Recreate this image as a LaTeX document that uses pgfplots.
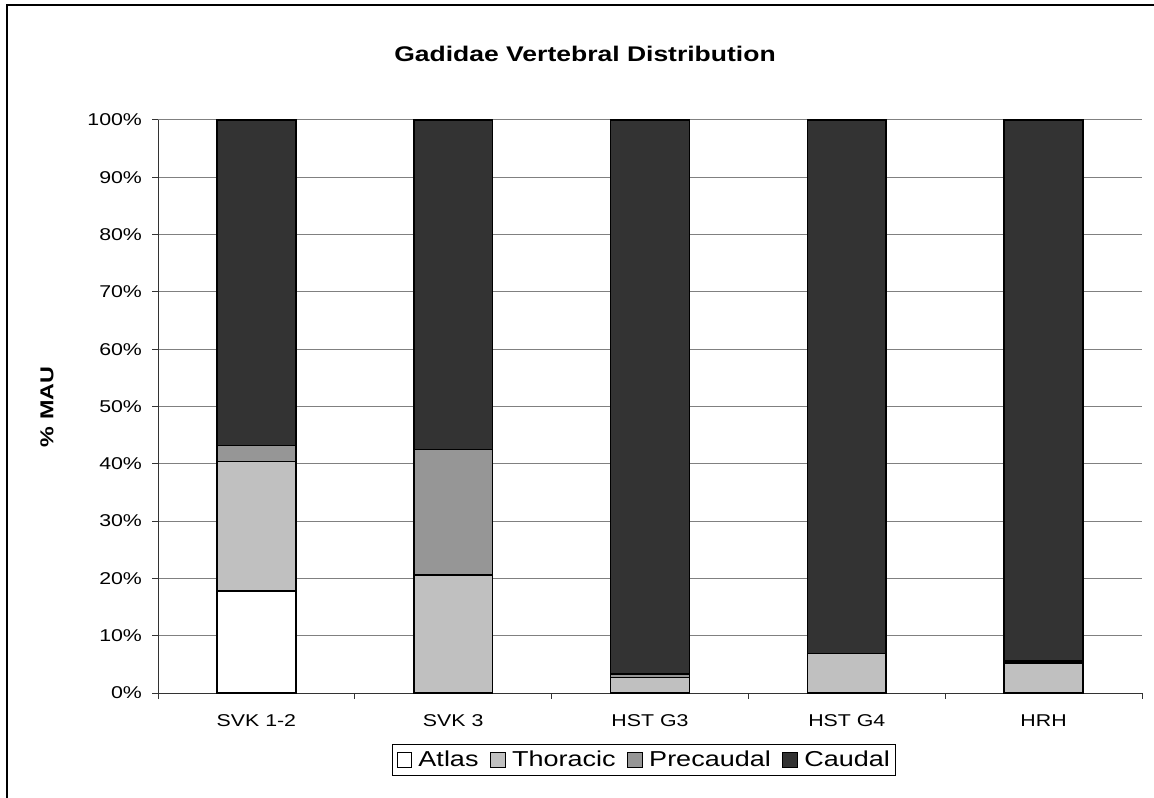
\documentclass[border=0pt]{standalone}
\usepackage{fontspec}
\setmainfont{Liberation Sans}[FakeStretch=1.25]
\usepackage{pgfplots}
\pgfplotsset{compat=1.18}
\definecolor{thor}{HTML}{C0C0C0}
\definecolor{prec}{HTML}{969696}
\definecolor{caud}{HTML}{333333}
\begin{document}
\begin{tikzpicture}
\useasboundingbox (0pt,0pt) rectangle (865.5pt,597.75pt);
\draw[line width=1.1pt] (5.25pt,-5pt) -- (5.25pt,594pt) -- (875pt,594pt);
\node[font=\bfseries\fontsize{15.9}{18}\selectfont, anchor=base] at (438.75pt,551.25pt) {Gadidae Vertebral Distribution};
\node[font=\bfseries\fontsize{14}{16}\selectfont, rotate=90] at (35.25pt,292.5pt) {\% MAU};
\begin{axis}[
  at={(118.5pt,78pt)}, anchor=south west,
  scale only axis, width=738pt, height=429.75pt,
  ybar stacked, bar width=0.4,
  xmin=-0.5, xmax=4.5, ymin=0, ymax=100,
  xtick={-0.5,0.5,1.5,2.5,3.5,4.5}, xticklabels={},
  extra x ticks={0,1,2,3,4},
  extra x tick labels={SVK 1-2,SVK 3,HST G3,HST G4,HRH},
  extra x tick style={major tick length=0pt, xticklabel style={yshift=-12.5pt}},
  ytick={0,10,...,100},
  yticklabel={\pgfmathprintnumber{\tick}\%},
  yticklabel style={xshift=-4pt},
  ymajorgrids, grid style={gray, line width=0.75pt},
  axis x line*=bottom, axis y line*=left,
  tick align=outside,
  major tick length=4.5pt,
  tick style={black!80, line width=0.75pt},
  axis line style={black!80, line width=0.75pt},
  ticklabel style={font=\fontsize{12.8}{14}\selectfont},
  /pgf/number format/assume math mode=true,
  legend columns=4,
  legend style={at={(0.494,-0.117)}, anchor=center, draw=black, line width=0.75pt,
    font=\fontsize{16.2}{18}\selectfont,
    /tikz/every even column/.append style={column sep=6pt}, inner xsep=2pt, inner ysep=3pt},
  legend image code/.code={\draw[#1, line width=0.75pt] (0pt,-5.6pt) rectangle (11pt,5.4pt); \path (-0.5pt,0pt) (13.5pt,0pt);},
]
\addplot[fill=white, draw=black, line width=1.2pt] coordinates {(0,17.8) (1,0) (2,0) (3,0) (4,0)};
\addplot[fill=thor, draw=black, line width=1.2pt] coordinates {(0,22.6) (1,20.6) (2,2.7) (3,6.9) (4,5.2)};
\addplot[fill=prec, draw=black, line width=1.2pt] coordinates {(0,2.8) (1,21.9) (2,0.6) (3,0) (4,0.4)};
\addplot[fill=caud, draw=black, line width=1.2pt] coordinates {(0,56.8) (1,57.5) (2,96.7) (3,93.1) (4,94.4)};
\legend{Atlas,Thoracic,Precaudal,Caudal}
\end{axis}
\end{tikzpicture}
\end{document}
